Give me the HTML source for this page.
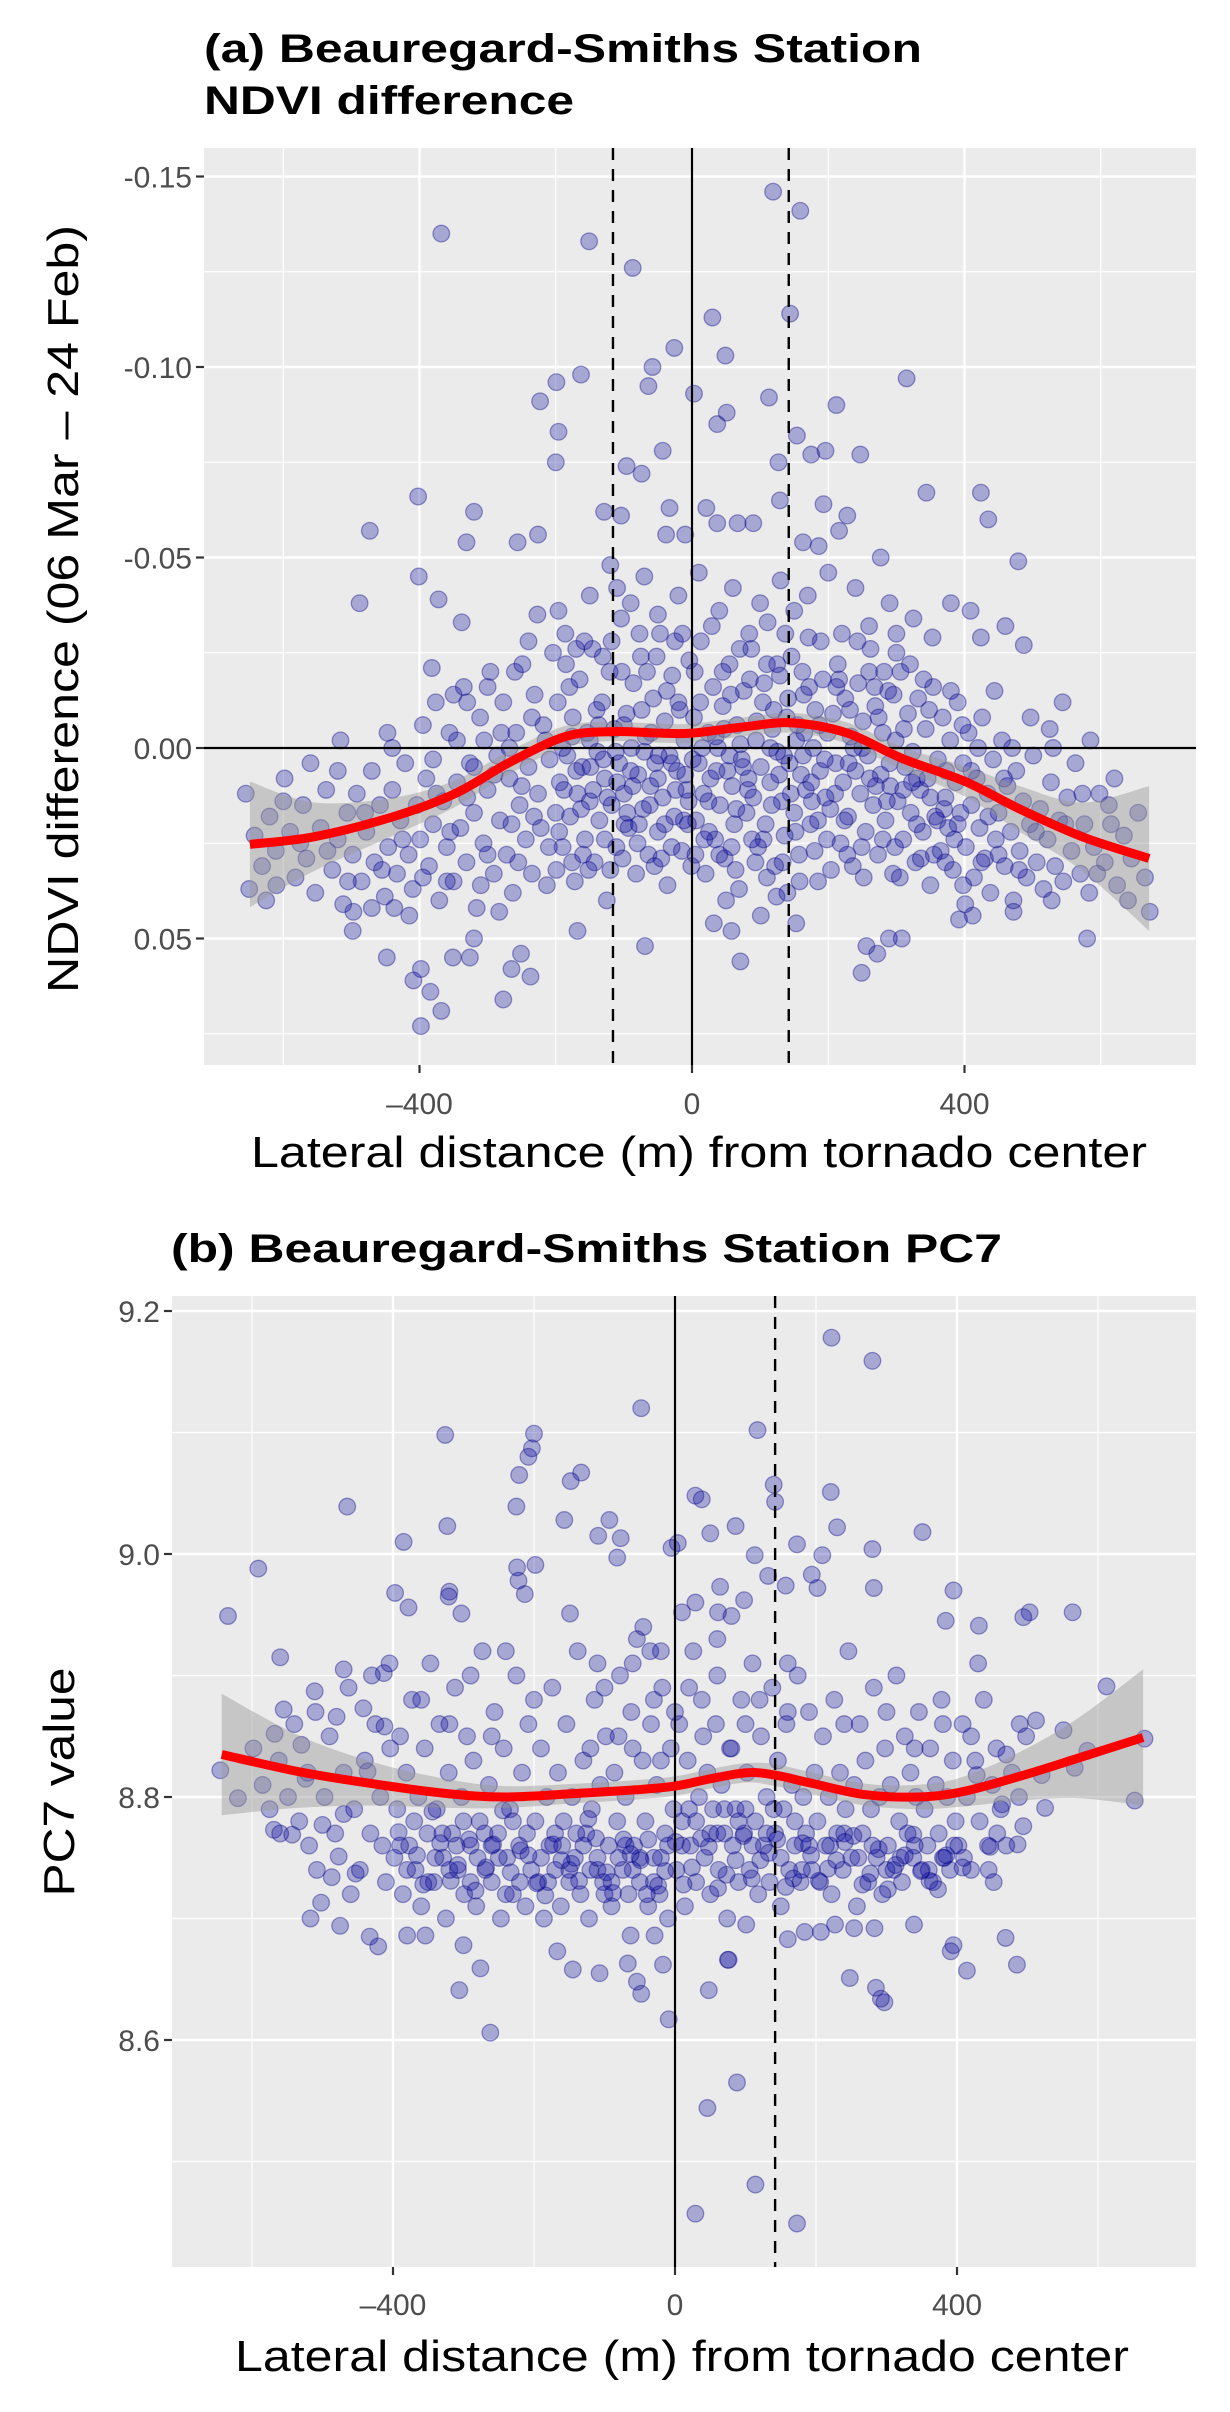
<!DOCTYPE html>
<html><head><meta charset="utf-8"><style>
html,body{margin:0;padding:0;background:#fff;}
svg{display:block;font-family:"Liberation Sans",Arial,sans-serif;}
</style></head><body>
<svg id="chart" width="1230" height="2412" viewBox="0 0 1230 2412" xmlns="http://www.w3.org/2000/svg">
<text x="204" y="62" font-size="40" font-weight="bold" textLength="718" lengthAdjust="spacingAndGlyphs">(a) Beauregard-Smiths Station</text>
<text x="204" y="114" font-size="40" font-weight="bold" textLength="370" lengthAdjust="spacingAndGlyphs">NDVI difference</text>
<g id="panelA"></g>
<text x="699" y="1167" font-size="44" text-anchor="middle" textLength="896" lengthAdjust="spacingAndGlyphs">Lateral distance (m) from tornado center</text>
<text transform="translate(78,609) rotate(-90)" font-size="44" text-anchor="middle" textLength="768" lengthAdjust="spacingAndGlyphs">NDVI difference (06 Mar – 24 Feb)</text>
<text x="171" y="1262" font-size="40" font-weight="bold" textLength="831" lengthAdjust="spacingAndGlyphs">(b) Beauregard-Smiths Station PC7</text>
<g id="panelB"></g>
<text x="682" y="2371" font-size="44" text-anchor="middle" textLength="894" lengthAdjust="spacingAndGlyphs">Lateral distance (m) from tornado center</text>
<text transform="translate(74,1782) rotate(-90)" font-size="44" text-anchor="middle" textLength="229" lengthAdjust="spacingAndGlyphs">PC7 value</text>
</svg>
<script>
// ---------- Panel A data ----------
const xTicksA = [-400, 0, 400];
const xTickLabelsA = ["\u2013400", "0", "400"];
const xMinorA = [-600, -200, 200, 600];
const yTicksA = [-0.15, -0.10, -0.05, 0.00, 0.05];
const yTickLabelsA = ["-0.15", "-0.10", "-0.05", "0.00", "0.05"];
const yMinorA = [-0.125, -0.075, -0.025, 0.025, 0.075];
const vDashedA = [-116, 142];
const pointsA = [
[-368,-0.135],[-151,-0.133],[-87,-0.126],[119,-0.146],[159,-0.141],[30,-0.113],[144,-0.114],[-26,-0.105],[49,-0.103],[-58,-0.100],[-64,-0.095],[3,-0.093],[-163,-0.098],[-199,-0.096],[-223,-0.091],[51,-0.088],[37,-0.085],[113,-0.092],[212,-0.090],[315,-0.097],[-196,-0.083],[154,-0.082],[-200,-0.075],[-96,-0.074],[-74,-0.072],[-43,-0.078],[127,-0.075],[175,-0.077],[196,-0.078],[247,-0.077],[-402,-0.066],[344,-0.067],[424,-0.067],[435,-0.060],[-320,-0.062],[129,-0.065],[-129,-0.062],[-104,-0.061],[-33,-0.063],[21,-0.063],[37,-0.059],[67,-0.059],[90,-0.059],[193,-0.064],[228,-0.061],[216,-0.057],[-473,-0.057],[-226,-0.056],[-256,-0.054],[-331,-0.054],[-38,-0.056],[-10,-0.056],[163,-0.054],[186,-0.053],[479,-0.049],[277,-0.050],[-401,-0.045],[-488,-0.038],[-372,-0.039],[-338,-0.033],[-227,-0.035],[-196,-0.036],[380,-0.038],[409,-0.036],[460,-0.032],[487,-0.027],[325,-0.034],[353,-0.029],[424,-0.029],[444,-0.015],[544,-0.012],[497,-0.008],[525,-0.005],[-382,-0.021],[-516,-0.002],[-447,-0.004],
[-120,-0.048],[-110,-0.042],[-90,-0.038],[-70,-0.045],[-50,-0.035],[-20,-0.040],[10,-0.046],[40,-0.036],[60,-0.042],[100,-0.038],[130,-0.044],[150,-0.036],[170,-0.040],[200,-0.046],[240,-0.042],[260,-0.032],[290,-0.038],[300,-0.030],[-170,-0.026],[-150,-0.040],[-240,-0.028],[-260,-0.020],[-300,-0.016],[-330,-0.012],[-350,-0.014],
[-409,0.061],[-398,0.058],[-384,0.064],[-398,0.073],[-368,0.069],[-448,0.055],[-351,0.055],[-320,0.050],[-326,0.055],[-251,0.054],[-237,0.060],[-277,0.066],[-265,0.058],[-283,0.043],[-168,0.048],[-69,0.052],[32,0.046],[58,0.048],[71,0.056],[153,0.046],[249,0.059],[256,0.052],[272,0.054],[289,0.050],[308,0.050],[580,0.050],[672,0.043],[392,0.045],[401,0.041],[412,0.044],[472,0.043],[-650,0.037],[-498,0.048],[-497,0.043],[-437,0.042],[101,0.044],[124,0.039],
[-655,0.012],[-642,0.023],[-631,0.031],[-620,0.018],[-611,0.027],[-598,0.008],[-590,0.022],[-582,0.034],[-571,0.015],[-566,0.029],[-553,0.038],[-545,0.021],[-537,0.011],[-528,0.032],[-520,0.024],[-512,0.041],[-506,0.017],[-498,0.028],[-492,0.012],[-485,0.035],[-478,0.022],[-470,0.006],[-466,0.030],[-458,0.015],[-451,0.039],[-446,0.026],[-440,0.011],[-433,0.033],[-428,0.019],[-421,0.004],[-416,0.028],[-410,0.037],[-404,0.015],[-399,0.024],[-560,0.004],[-610,0.036],[-520,0.006],[-470,0.042],[-440,0.000],[-415,0.044],
[-395,-0.006],[-390,0.008],[-386,0.031],[-380,0.020],[-376,-0.012],[-371,0.040],[-365,0.014],[-360,0.026],[-356,-0.004],[-350,0.035],[-345,0.009],[-340,0.021],[-335,-0.016],[-331,0.030],[-326,0.004],[-320,0.017],[-316,0.042],[-311,-0.008],[-306,0.025],[-300,0.011],[-296,-0.020],[-291,0.033],[-286,0.002],[-282,0.019],[-277,-0.012],[-272,0.028],[-268,0.008],[-263,0.038],[-258,-0.004],[-253,0.015],[-249,-0.022],[-244,0.024],[-240,0.005],[-235,0.033],[-231,-0.014],[-226,0.012],[-222,0.021],[-218,-0.006],[-213,0.036],[-209,0.003],[-204,-0.025],[-200,0.017],[-380,0.003],[-330,0.013],[-290,0.007],[-250,0.010],[-215,-0.002],[-355,0.022],[-305,-0.002],[-265,0.020],
[-197,-0.012],[-194,0.009],[-190,0.026],[-186,-0.030],[-183,0.002],[-179,0.018],[-175,-0.008],[-172,0.035],[-168,0.012],[-165,-0.018],[-161,0.005],[-157,0.024],[-154,-0.004],[-150,0.014],[-146,-0.026],[-143,0.030],[-139,0.001],[-136,0.019],[-132,-0.012],[-128,0.008],[-125,0.040],[-121,-0.020],[-118,0.015],[-114,-0.005],[-111,0.026],[-107,0.004],[-104,-0.034],[-100,0.012],[-96,-0.009],[-93,0.021],[-89,0.000],[-86,-0.017],[-82,0.033],[-79,0.007],[-75,-0.024],[-72,0.016],[-68,-0.003],[-64,0.028],[-61,0.010],[-57,-0.013],[-54,0.004],[-50,0.022],[-47,-0.030],[-43,0.013],[-40,-0.007],[-36,0.036],[-33,0.002],[-29,-0.019],[-26,0.018],[-22,0.006],[-18,-0.010],[-15,0.027],[-11,-0.002],[-8,0.011],[-4,-0.023],[-1,0.031],
[-190,0.000],[-170,0.006],[-150,-0.002],[-130,0.003],[-110,0.009],[-90,0.006],[-70,0.001],[-50,0.008],[-30,0.004],[-10,0.007],[-180,-0.016],[-140,-0.010],[-100,-0.006],[-60,-0.004],[-20,-0.012],[-160,0.028],[-120,0.032],[-80,0.025],[-40,0.020],[-195,0.022],[-145,0.011],[-95,0.017],[-45,0.029],[-5,0.014],
[3,-0.008],[6,0.019],[10,0.004],[13,-0.028],[17,0.012],[20,0.033],[24,-0.004],[27,0.008],[31,-0.016],[34,0.024],[38,0.000],[41,0.015],[45,-0.011],[48,0.029],[52,0.006],[55,-0.022],[59,0.010],[62,0.020],[66,-0.006],[69,0.037],[73,0.003],[76,-0.015],[80,0.017],[83,0.008],[87,-0.026],[90,0.013],[94,-0.002],[97,0.026],[101,0.005],[104,-0.012],[108,0.020],[111,-0.033],[115,0.009],[118,-0.005],[122,0.031],[125,0.001],[129,-0.019],[132,0.014],[136,0.023],[139,-0.008],[143,0.004],[146,-0.024],[150,0.017],[153,-0.002],[157,0.028],[160,0.007],[164,-0.014],[167,0.011],[171,-0.029],[174,0.020],[178,0.000],[181,-0.010],[185,0.035],[188,0.006],[192,-0.018],[196,0.013],[199,-0.004],
[15,0.000],[35,-0.003],[55,0.002],[75,0.005],[95,-0.007],[115,0.000],[135,0.002],[155,-0.006],[175,0.009],[195,0.003],[25,0.022],[65,0.016],[105,0.024],[145,0.012],[185,0.019],[45,-0.020],[85,-0.018],[125,-0.022],[165,-0.004],[5,0.028],[50,0.040],[140,0.038],
[203,0.016],[207,-0.009],[211,0.004],[214,-0.022],[218,0.025],[222,0.009],[225,-0.013],[229,0.018],[233,-0.003],[236,0.031],[240,0.006],[244,-0.017],[247,0.012],[251,-0.007],[255,0.022],[258,0.002],[262,-0.026],[266,0.015],[269,-0.011],[273,0.028],[277,0.007],[280,-0.004],[284,0.019],[288,-0.015],[291,0.010],[295,0.033],[299,-0.002],[302,0.014],[306,-0.020],[310,0.024],[313,0.005],[317,-0.009],[321,0.017],[324,0.001],[328,0.030],[332,-0.013],[335,0.011],[339,0.022],[343,-0.005],[346,0.008],[350,0.036],[354,-0.016],[357,0.018],[361,0.003],[365,0.027],[368,-0.008],[372,0.013],[376,0.021],[379,-0.002],[383,0.032],[387,0.009],[390,-0.012],[394,0.017],[398,0.004],
[210,0.012],[230,0.004],[250,0.000],[270,0.010],[290,0.004],[310,0.011],[330,0.008],[350,0.013],[370,0.016],[390,0.020],[220,-0.030],[260,-0.020],[300,-0.025],[340,-0.018],[380,-0.015],
[402,0.026],[406,-0.004],[410,0.015],[414,0.034],[418,0.008],[422,0.021],[426,-0.008],[430,0.029],[434,0.012],[438,0.038],[442,0.003],[446,0.024],[450,0.017],[455,-0.002],[459,0.031],[463,0.010],[468,0.022],[472,0.040],[476,0.006],[481,0.027],[486,0.014],[491,0.034],[496,0.020],[501,0.002],[506,0.030],[511,0.016],[516,0.037],[522,0.024],[527,0.009],[533,0.031],[539,0.019],[545,0.035],[551,0.013],[557,0.027],[563,0.004],[570,0.033],[576,0.020],[583,0.038],[590,0.026],[598,0.012],[606,0.030],[615,0.020],[624,0.036],[634,0.023],[645,0.029],[655,0.017],[665,0.034],[585,-0.002],[620,0.008],[470,0.000],[420,0.000],[530,0.000],
[-188,0.011],[-176,-0.003],[-163,0.016],[-149,0.005],[-137,-0.006],[-124,0.013],[-112,0.001],[-99,0.020],[-87,0.010],[-74,-0.010],[-62,0.015],[-49,0.002],[-37,-0.015],[-24,0.011],[-12,0.019],[1,0.003],[12,-0.012],[24,0.014],[36,0.006],[47,-0.005],[58,0.026],[71,-0.001],[82,0.011],[93,0.030],[106,-0.017],[117,0.015],[128,0.007],[141,-0.013],[152,0.022],[163,0.002],[176,0.014],[187,-0.006],[198,0.024],[212,-0.016],[224,0.019],[237,0.000],[249,0.026],[261,0.008],[274,-0.008],[286,0.014],[298,0.026],[311,-0.005],[323,0.009],[336,0.029],[348,-0.010],[360,0.019],[373,0.006],[385,0.024],[397,-0.006],
[-185,-0.022],[-158,-0.028],[-131,-0.024],[-103,-0.020],[-77,-0.030],[-52,-0.024],[-25,-0.028],[4,-0.020],[29,-0.032],[57,-0.014],[84,-0.030],[110,-0.022],[137,-0.030],[162,-0.020],[189,-0.028],[216,-0.018],[243,-0.028],[268,-0.016],[296,-0.014],[-320,0.005],[-345,-0.002],[-375,0.012],[-300,0.028],[-280,-0.004],[-255,0.030],[-232,0.018],[-210,0.026],[-235,-0.008],[-268,0.000],[-310,0.036],[-360,0.035],[-395,0.034],[-425,0.024],[-455,0.032],[-480,0.017],[-505,0.035],[-535,0.027],[-575,0.025],[-600,0.014],[-625,0.040],
[410,0.006],[435,0.018],[458,0.008],[480,0.032],[505,0.022],[528,0.040],[548,0.020],[573,0.012],[595,0.033],[612,0.015],[640,0.040],[450,0.028],[425,0.030],[398,0.036],[372,0.030],[355,0.028],[330,0.020],[305,0.034],[280,0.024],[252,0.034],[228,0.028],[204,0.032],[180,0.027],[158,0.035],[133,0.030],[110,0.034],[88,0.024],[64,0.032],[40,0.028],[18,0.024],[-6,0.020],[-30,0.026],[-55,0.031],[-78,0.020],[-102,0.029],[-128,0.024],[-152,0.032],[-176,0.030],[-199,0.032],[-118,-0.028],[-66,-0.020],[-14,-0.030],[70,-0.026],[120,-0.010],[172,-0.016],[232,-0.010],[282,-0.020],[320,-0.022]
];
const smoothXA = [-649,-555,-440,-348,-267,-186,-117,-48,0,78,147,228,308,401,481,573,671];
const smoothYA = [0.0253,0.0233,0.0181,0.0120,0.0037,-0.0030,-0.0043,-0.0039,-0.0039,-0.0056,-0.0066,-0.0039,0.0027,0.0088,0.0160,0.0233,0.0290];
const smoothSeA = [0.0165,0.009,0.005,0.0035,0.003,0.0028,0.0025,0.0025,0.0025,0.0025,0.0026,0.0028,0.003,0.004,0.006,0.009,0.019];

// ---------- Panel B data ----------
const xTicksB = [-400, 0, 400];
const xTickLabelsB = ["\u2013400", "0", "400"];
const xMinorB = [-600, -200, 200, 600];
const yTicksB = [8.6, 8.8, 9.0, 9.2];
const yTickLabelsB = ["8.6", "8.8", "9.0", "9.2"];
const yMinorB = [8.5, 8.7, 8.9, 9.1];
const vDashedB = [142];
const pointsB = [
[222,9.178],[280,9.159],[-48,9.120],[-326,9.098],[-200,9.099],[-203,9.087],[-208,9.080],[117,9.102],[-221,9.065],[-148,9.060],[-133,9.067],[140,9.057],[221,9.051],[29,9.048],[38,9.045],[142,9.043],[-225,9.039],[-465,9.039],[-157,9.028],[-93,9.028],[-323,9.023],[230,9.022],[50,9.017],[86,9.023],[351,9.018],[-109,9.015],[-77,9.013],[-385,9.010],[173,9.008],[-5,9.005],[4,9.009],[113,8.999],[-82,8.997],[209,8.999],[280,9.004],[-591,8.988],[-224,8.989],[-198,8.991],[-222,8.978],[-213,8.967],[194,8.983],[202,8.972],[132,8.982],[157,8.974],[282,8.972],[395,8.970],[-397,8.968],[-378,8.956],[-320,8.969],[-321,8.965],[-303,8.951],[-634,8.949],[503,8.952],[564,8.952],[494,8.948],[431,8.941],[384,8.945],[-149,8.951],[64,8.973],[80,8.949],[98,8.962],[10,8.952],[29,8.960],[61,8.952],
[-262,8.606],[-9,8.617],[88,8.565],[46,8.544],[114,8.481],[29,8.457],[173,8.449],[-306,8.641],[-276,8.659],[-145,8.658],[-107,8.655],[-67,8.663],[-54,8.648],[-48,8.638],[-17,8.662],[48,8.641],[76,8.666],[248,8.651],[285,8.643],[297,8.631],[292,8.634],[414,8.657],[485,8.662],[395,8.678],[391,8.673],[469,8.684],[339,8.695],[254,8.692],[283,8.692],[227,8.695],[207,8.689],[184,8.689],[160,8.683],[101,8.695],[75,8.666],[-29,8.686],[-63,8.686],[-167,8.673],[-380,8.686],[-354,8.686],[-300,8.678],[-421,8.677],[-433,8.685],[-475,8.694],[-517,8.700],[-502,8.713],[457,8.770],
[-645,8.822],[-620,8.799],[-560,8.915],[-555,8.872],[-568,8.852],[-530,8.843],[-524,8.815],[-569,8.773],[-543,8.769],[-519,8.760],[-511,8.887],[-480,8.866],[-470,8.905],[-413,8.902],[-442,8.873],[-412,8.858],[-436,8.821],[-500,8.777],[-470,8.786],[-477,8.751],[-453,8.737],[-487,8.734],
[612,8.891],[652,8.797],[666,8.848],[585,8.838],[551,8.855],[567,8.824],[520,8.818],[512,8.863],[489,8.860],[525,8.791],[464,8.794],[494,8.776],[486,8.761],[447,8.759],[445,8.740],[428,8.818],[470,8.835],
[-598,8.84],[-585,8.81],[-575,8.79],[-562,8.83],[-549,8.80],[-540,8.86],[-533,8.78],[-521,8.82],[-508,8.74],[-497,8.80],[-490,8.85],[-482,8.77],[-470,8.82],[-463,8.89],[-455,8.79],[-447,8.74],[-440,8.83],[-432,8.77],[-425,8.86],[-418,8.80],[-410,8.73],[-404,8.84],[-560,8.77],[-510,8.87],[-460,8.72],[-430,8.90],[-415,8.76],[-405,8.91],
[-398,8.75],[-394,8.79],[-390,8.85],[-386,8.72],[-381,8.82],[-377,8.76],[-373,8.88],[-368,8.74],[-364,8.80],[-360,8.71],[-355,8.84],[-351,8.77],[-347,8.91],[-342,8.73],[-338,8.79],[-334,8.86],[-329,8.75],[-325,8.70],[-321,8.82],[-316,8.77],[-312,8.89],[-308,8.74],[-303,8.80],[-299,8.72],[-295,8.85],[-290,8.76],[-286,8.83],[-282,8.71],[-277,8.78],[-273,8.92],[-269,8.74],[-264,8.81],[-260,8.73],[-256,8.87],[-251,8.77],[-247,8.70],[-243,8.84],[-238,8.75],[-234,8.79],[-230,8.72],[-225,8.90],[-221,8.76],[-217,8.82],[-212,8.71],[-208,8.86],[-204,8.74],
[-390,8.76],[-370,8.78],[-350,8.73],[-330,8.77],[-310,8.76],[-290,8.73],[-270,8.77],[-250,8.75],[-230,8.78],[-210,8.77],[-380,8.74],[-340,8.75],[-300,8.78],[-260,8.76],[-220,8.73],[-320,8.74],[-280,8.75],[-240,8.72],
[-198,8.78],[-194,8.73],[-190,8.84],[-186,8.70],[-182,8.80],[-178,8.76],[-174,8.89],[-170,8.74],[-166,8.82],[-162,8.71],[-158,8.78],[-154,8.86],[-150,8.73],[-146,8.80],[-142,8.75],[-138,8.92],[-134,8.72],[-130,8.83],[-126,8.77],[-122,8.70],[-118,8.79],[-114,8.88],[-110,8.74],[-106,8.81],[-102,8.73],[-98,8.85],[-94,8.76],[-90,8.71],[-86,8.82],[-82,8.78],[-78,8.90],[-74,8.74],[-70,8.80],[-66,8.72],[-62,8.87],[-58,8.76],[-54,8.93],[-50,8.73],[-46,8.83],[-42,8.78],[-38,8.71],[-34,8.86],[-30,8.75],[-26,8.81],[-22,8.72],[-18,8.89],[-14,8.77],[-10,8.70],[-6,8.84],[-2,8.79],
[-190,8.75],[-170,8.77],[-150,8.74],[-130,8.76],[-110,8.75],[-90,8.73],[-70,8.76],[-50,8.75],[-30,8.73],[-10,8.76],[-180,8.73],[-140,8.77],[-100,8.72],[-60,8.74],[-20,8.75],[-160,8.76],[-120,8.74],[-80,8.75],[-40,8.72],[-45,8.94],[-35,8.92],[-60,8.91],
[2,8.74],[6,8.86],[10,8.78],[14,8.71],[18,8.83],[22,8.76],[26,8.92],[30,8.73],[34,8.80],[38,8.88],[42,8.75],[46,8.82],[50,8.72],[54,8.79],[58,8.86],[62,8.74],[66,8.81],[70,8.77],[74,8.70],[78,8.84],[82,8.76],[86,8.79],[90,8.73],[94,8.88],[98,8.77],[102,8.82],[106,8.74],[110,8.91],[114,8.78],[118,8.72],[122,8.85],[126,8.76],[130,8.80],[134,8.73],[138,8.89],[142,8.77],[146,8.83],[150,8.71],[154,8.79],[158,8.86],[162,8.74],[166,8.81],[170,8.76],[174,8.90],[178,8.73],[182,8.80],[186,8.77],[190,8.87],[194,8.74],[198,8.82],
[10,8.76],[30,8.78],[50,8.77],[70,8.79],[90,8.78],[110,8.76],[130,8.77],[150,8.75],[170,8.78],[190,8.76],[20,8.79],[60,8.77],[100,8.79],[140,8.79],[180,8.74],
[202,8.78],[206,8.73],[210,8.85],[214,8.76],[218,8.80],[222,8.72],[226,8.88],[230,8.77],[234,8.82],[238,8.74],[242,8.79],[246,8.92],[250,8.75],[254,8.81],[258,8.71],[262,8.86],[266,8.77],[270,8.83],[274,8.73],[278,8.79],[282,8.89],[286,8.75],[290,8.80],[294,8.72],[298,8.84],[302,8.76],[306,8.81],[310,8.74],[314,8.90],[318,8.78],[322,8.73],[326,8.85],[330,8.77],[334,8.82],[338,8.75],[342,8.80],[346,8.87],[350,8.74],[354,8.79],[358,8.76],[362,8.84],[366,8.73],[370,8.81],[374,8.77],[378,8.88],[382,8.75],[386,8.80],[390,8.74],[394,8.83],[398,8.78],
[220,8.76],[260,8.75],[300,8.74],[340,8.76],[380,8.75],[240,8.77],[280,8.76],[320,8.75],[360,8.74],
[402,8.76],[408,8.86],[414,8.80],[420,8.74],[426,8.83],[432,8.78],[438,8.88],[444,8.76],[450,8.81],[456,8.84],[462,8.79],[470,8.76],[478,8.82],[488,8.80],[498,8.85],[410,8.75],[430,8.91],[452,8.73],
[-392,8.771],[-366,8.752],[-344,8.788],[-318,8.731],[-292,8.765],[-268,8.742],[-244,8.789],[-219,8.756],[-196,8.729],[-173,8.761],[-147,8.745],[-123,8.782],[-97,8.738],[-73,8.765],[-49,8.748],[-24,8.727],[1,8.763],[24,8.742],[48,8.759],[73,8.736],[97,8.768],[121,8.748],[145,8.765],[168,8.733],[193,8.752],[217,8.741],[241,8.763],[266,8.728],[289,8.757],[313,8.744],[338,8.769],[361,8.731],[385,8.752],[408,8.742],[-357,8.728],[-333,8.762],[-308,8.744],[-283,8.723],[-258,8.761],[-233,8.738],[-208,8.752],[-184,8.719],[-161,8.748],[-136,8.731],[-112,8.766],[-88,8.721],[-63,8.753],[-38,8.765],[-14,8.739],[12,8.728],[37,8.766],[61,8.725],[86,8.748],[109,8.733],[133,8.754],[157,8.726],[181,8.762],[204,8.731],[229,8.748],[253,8.768],[277,8.737],[302,8.724],[326,8.752],[349,8.739],[373,8.724],[396,8.760],
[-80,8.85],[-60,8.84],[-30,8.88],[-20,8.83],[0,8.87],[20,8.89],[40,8.85],[60,8.90],[80,8.84],[100,8.86],[120,8.88],[160,8.87],[-100,8.89],[-120,8.84],[-200,8.88],[-260,8.85],[-320,8.86],[-360,8.88],[240,8.86],[300,8.87],[340,8.84],[380,8.86],[420,8.85],[160,8.91],[60,8.93],[-20,8.92],[-110,8.91],[-240,8.92],[-290,8.90]
];
const smoothXB = [-643,-535,-430,-326,-242,-138,-54,0,50,102,142,196,269,343,405,489,572,664];
const smoothYB = [8.835,8.821,8.811,8.803,8.800,8.803,8.806,8.809,8.815,8.820,8.818,8.811,8.802,8.800,8.804,8.817,8.832,8.849];
const smoothSeB = [0.05,0.03,0.018,0.012,0.009,0.008,0.008,0.008,0.008,0.008,0.009,0.009,0.009,0.01,0.012,0.02,0.033,0.056];

const NS = "http://www.w3.org/2000/svg";
function mk(parent, tag, attrs) {
  const e = document.createElementNS(NS, tag);
  for (const k in attrs) e.setAttribute(k, attrs[k]);
  parent.appendChild(e);
  return e;
}
function smoothPath(P) {
  let d = "M" + P[0][0].toFixed(1) + "," + P[0][1].toFixed(1);
  for (let i = 0; i < P.length - 1; i++) {
    const p0 = P[Math.max(0, i - 1)], p1 = P[i], p2 = P[i + 1], p3 = P[Math.min(P.length - 1, i + 2)];
    const c1x = p1[0] + (p2[0] - p0[0]) / 6, c1y = p1[1] + (p2[1] - p0[1]) / 6;
    const c2x = p2[0] - (p3[0] - p1[0]) / 6, c2y = p2[1] - (p3[1] - p1[1]) / 6;
    d += " C" + c1x.toFixed(1) + "," + c1y.toFixed(1) + " " + c2x.toFixed(1) + "," + c2y.toFixed(1) + " " + p2[0].toFixed(1) + "," + p2[1].toFixed(1);
  }
  return d;
}

function drawPanel(g, cfg) {
  const L = cfg.left, R = cfg.right, T = cfg.top, B = cfg.bottom;
  const sx = v => cfg.x0px + v * cfg.xScale;
  const sy = v => cfg.yRefPx + (v - cfg.yRef) * cfg.yScale;
  const bg = mk(g, "rect", {x: L, y: T, width: R - L, height: B - T, fill: "#EBEBEB"});
  
  
  cfg.xMinor.forEach(v => {
    const l = mk(g, "line", {x1: sx(v), x2: sx(v), y1: T, y2: B, stroke: "#fff", "stroke-width": 1.2});
    
    
  });
  cfg.yMinor.forEach(v => {
    const l = mk(g, "line", {x1: L, x2: R, y1: sy(v), y2: sy(v), stroke: "#fff", "stroke-width": 1.2});
    
    
  });
  cfg.xTicks.forEach((v, i) => {
    const l = mk(g, "line", {x1: sx(v), x2: sx(v), y1: T, y2: B, stroke: "#fff", "stroke-width": 2.4});
    
    
    const t = mk(g, "line", {x1: sx(v), x2: sx(v), y1: B, y2: B + 8, stroke: "#333", "stroke-width": 2.2});
    
    
    const tx = mk(g, "text", {x: sx(v), y: cfg.xLabelY, "font-size": 30, fill: "#4D4D4D", "text-anchor": "middle"});
    tx.textContent = cfg.xTickLabels[i];
    
    
  });
  cfg.yTicks.forEach((v, i) => {
    const l = mk(g, "line", {x1: L, x2: R, y1: sy(v), y2: sy(v), stroke: "#fff", "stroke-width": 2.4});
    
    
    const t = mk(g, "line", {x1: L - 8, x2: L, y1: sy(v), y2: sy(v), stroke: "#333", "stroke-width": 2.2});
    
    
    const tx = mk(g, "text", {x: L - 12, y: sy(v) + 11, "font-size": 30, fill: "#4D4D4D", "text-anchor": "end"});
    tx.textContent = cfg.yTickLabels[i];
    
    
  });
  const pg = mk(g, "g", {});
  
  
  cfg.points.forEach(p => {
    const c = mk(pg, "circle", {cx: sx(p[0]).toFixed(1), cy: sy(p[1]).toFixed(1), r: 8.3, fill: "rgba(10,10,160,0.30)", stroke: "rgba(0,0,130,0.38)", "stroke-width": 1.3});
    
    
  });
  const upP = cfg.sX.map((v, i) => [sx(v), sy(cfg.sY[i] - cfg.sSe[i])]);
  const loP = cfg.sX.map((v, i) => [sx(v), sy(cfg.sY[i] + cfg.sSe[i])]).reverse();
  const bandD = smoothPath(upP) + " L" + smoothPath(loP).slice(1) + " Z";
  const band = mk(g, "path", {d: bandD, fill: "rgba(153,153,153,0.45)"});
  
  
  if (cfg.hZero) {
    const h = mk(g, "line", {x1: L, x2: R, y1: sy(0), y2: sy(0), stroke: "#000", "stroke-width": 2.2});
    
    
  }
  const vz = mk(g, "line", {x1: sx(0), x2: sx(0), y1: T, y2: B, stroke: "#000", "stroke-width": 2.2});
  
  
  cfg.vDashed.forEach(v => {
    const d = mk(g, "line", {x1: sx(v), x2: sx(v), y1: T, y2: B, stroke: "#000", "stroke-width": 2.4, "stroke-dasharray": "12,9"});
    
    
  });
  const lineP = cfg.sX.map((v, i) => [sx(v), sy(cfg.sY[i])]);
  const sl = mk(g, "path", {d: smoothPath(lineP), fill: "none", stroke: "#FF0000", "stroke-width": 9, "stroke-linejoin": "round"});
  
  
}

drawPanel(document.getElementById("panelA"), {
  prefix: "panel-a", left: 204, right: 1196, top: 148, bottom: 1065,
  x0px: 692, xScale: 272.5 / 400, yRef: 0, yRefPx: 748, yScale: 190.5 / 0.05,
  xTicks: xTicksA, xTickLabels: xTickLabelsA, xMinor: xMinorA,
  yTicks: yTicksA, yTickLabels: yTickLabelsA, yMinor: yMinorA,
  xLabelY: 1114, points: pointsA, sX: smoothXA, sY: smoothYA, sSe: smoothSeA,
  vDashed: vDashedA, hZero: true
});
drawPanel(document.getElementById("panelB"), {
  prefix: "panel-b", left: 172, right: 1196, top: 1296, bottom: 2267,
  x0px: 675, xScale: 282 / 400, yRef: 8.8, yRefPx: 1797, yScale: -243 / 0.2,
  xTicks: xTicksB, xTickLabels: xTickLabelsB, xMinor: xMinorB,
  yTicks: yTicksB, yTickLabels: yTickLabelsB, yMinor: yMinorB,
  xLabelY: 2315, points: pointsB, sX: smoothXB, sY: smoothYB, sSe: smoothSeB,
  vDashed: vDashedB, hZero: false
});
</script>
</body></html>
